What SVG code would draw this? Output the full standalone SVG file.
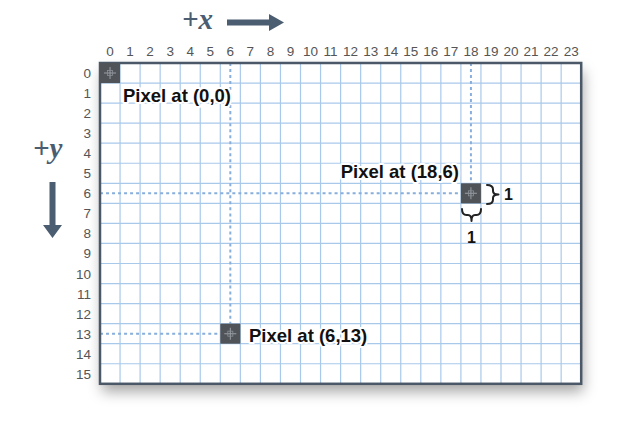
<svg xmlns="http://www.w3.org/2000/svg" width="640" height="428" viewBox="0 0 640 428">
<defs>
<filter id="sh" x="-10%" y="-10%" width="125%" height="130%">
<feDropShadow dx="2" dy="8" stdDeviation="7" flood-color="#000" flood-opacity="0.35"/>
</filter>
<g id="px">
<rect x="0" y="0" width="20" height="20" fill="#505357"/>
<path d="M10,4 V16 M4,10 H16" stroke="#9aa0a8" stroke-width="1" fill="none"/>
<rect x="7.5" y="7.5" width="5" height="5" fill="none" stroke="#8a9098" stroke-width="0.8"/>
</g>
</defs>
<style>
.col{font-family:"Liberation Sans",Arial,sans-serif;font-size:13.5px;fill:#555;text-anchor:middle}
.row{font-family:"Liberation Sans",Arial,sans-serif;font-size:13.5px;fill:#555;text-anchor:end}
.lbl{font-family:"Liberation Sans",Arial,sans-serif;font-size:18.5px;font-weight:bold;fill:#111;stroke:#fff;stroke-width:4;paint-order:stroke;stroke-linejoin:round}
.one{font-family:"Liberation Sans",Arial,sans-serif;font-size:16px;font-weight:bold;fill:#111}
.axis{font-family:"Liberation Serif","Times New Roman",serif;font-size:29px;font-style:italic;font-weight:bold;fill:#4b5d70}
.grid{stroke:#a9c9ea;stroke-width:1.2;fill:none}
.dash{stroke:#88afdc;stroke-width:2;stroke-dasharray:3 3;fill:none}
.brace{stroke:#222;stroke-width:2;fill:none;stroke-linecap:round;stroke-linejoin:round}
</style>
<rect width="640" height="428" fill="#fff"/>
<g id="axes">
<text class="axis" x="182" y="29">+x</text>
<path d="M227,19.5 H269 V14 L284,22.5 L269,31 V25.5 H227 Z" fill="#4b5d70"/>
<text class="axis" x="33" y="158">+y</text>
<path d="M49.5,182 V225 H43 L52.5,238 L62,225 H55.5 V182 Z" fill="#4b5d70"/>
</g>
<g id="grid" transform="translate(100,63) scale(1.0025)">
<rect x="0" y="0" width="480" height="320" fill="#fff" filter="url(#sh)"/>
<path class="grid" d="M20,0V320M40,0V320M60,0V320M80,0V320M100,0V320M120,0V320M140,0V320M160,0V320M180,0V320M200,0V320M220,0V320M240,0V320M260,0V320M280,0V320M300,0V320M320,0V320M340,0V320M360,0V320M380,0V320M400,0V320M420,0V320M440,0V320M460,0V320M0,20H480M0,40H480M0,60H480M0,80H480M0,100H480M0,120H480M0,140H480M0,160H480M0,180H480M0,200H480M0,220H480M0,240H480M0,260H480M0,280H480M0,300H480"/>
<g id="connectors">
<path class="dash" d="M130,0 V260 M0,270 H120 M370,0 V120 M0,130 H360"/>
</g>
<rect x="0" y="0" width="480" height="320" fill="none" stroke="#4a5868" stroke-width="2.5"/>
<g id="pixel-0-0"><use href="#px" x="0" y="0"/></g>
<g id="pixel-18-6"><use href="#px" x="360" y="120"/></g>
<g id="pixel-6-13"><use href="#px" x="120" y="260"/></g>
<g id="colnums">
<text class="col" x="10" y="-7">0</text><text class="col" x="30" y="-7">1</text><text class="col" x="50" y="-7">2</text><text class="col" x="70" y="-7">3</text><text class="col" x="90" y="-7">4</text><text class="col" x="110" y="-7">5</text><text class="col" x="130" y="-7">6</text><text class="col" x="150" y="-7">7</text><text class="col" x="170" y="-7">8</text><text class="col" x="190" y="-7">9</text><text class="col" x="210" y="-7">10</text><text class="col" x="230" y="-7">11</text><text class="col" x="250" y="-7">12</text><text class="col" x="270" y="-7">13</text><text class="col" x="290" y="-7">14</text><text class="col" x="310" y="-7">15</text><text class="col" x="330" y="-7">16</text><text class="col" x="350" y="-7">17</text><text class="col" x="370" y="-7">18</text><text class="col" x="390" y="-7">19</text><text class="col" x="410" y="-7">20</text><text class="col" x="430" y="-7">21</text><text class="col" x="450" y="-7">22</text><text class="col" x="470" y="-7">23</text>
</g>
<g id="rownums">
<text class="row" x="-9" y="15">0</text><text class="row" x="-9" y="35">1</text><text class="row" x="-9" y="55">2</text><text class="row" x="-9" y="75">3</text><text class="row" x="-9" y="95">4</text><text class="row" x="-9" y="115">5</text><text class="row" x="-9" y="135">6</text><text class="row" x="-9" y="155">7</text><text class="row" x="-9" y="175">8</text><text class="row" x="-9" y="195">9</text><text class="row" x="-9" y="215">10</text><text class="row" x="-9" y="235">11</text><text class="row" x="-9" y="255">12</text><text class="row" x="-9" y="275">13</text><text class="row" x="-9" y="295">14</text><text class="row" x="-9" y="315">15</text>
</g>
</g>
<g id="labels">
<text class="lbl" x="123" y="102">Pixel at (0,0)</text>
<text class="lbl" x="459" y="178" text-anchor="end">Pixel at (18,6)</text>
<text class="lbl" x="249" y="342">Pixel at (6,13)</text>
</g>
<g id="braces">
<path class="brace" d="M487,185 Q493,185 493,189.5 V191 Q493,194.5 498.5,194.5 Q493,194.5 493,198 V199.5 Q493,204 487,204"/>
<text class="one" x="504" y="200">1</text>
<path class="brace" d="M462,209 Q462,215 466.5,215 H468 Q471.5,215 471.5,221 Q471.5,215 475,215 H476.5 Q481,215 481,209"/>
<text class="one" x="471.5" y="243" text-anchor="middle">1</text>
</g>
</svg>
